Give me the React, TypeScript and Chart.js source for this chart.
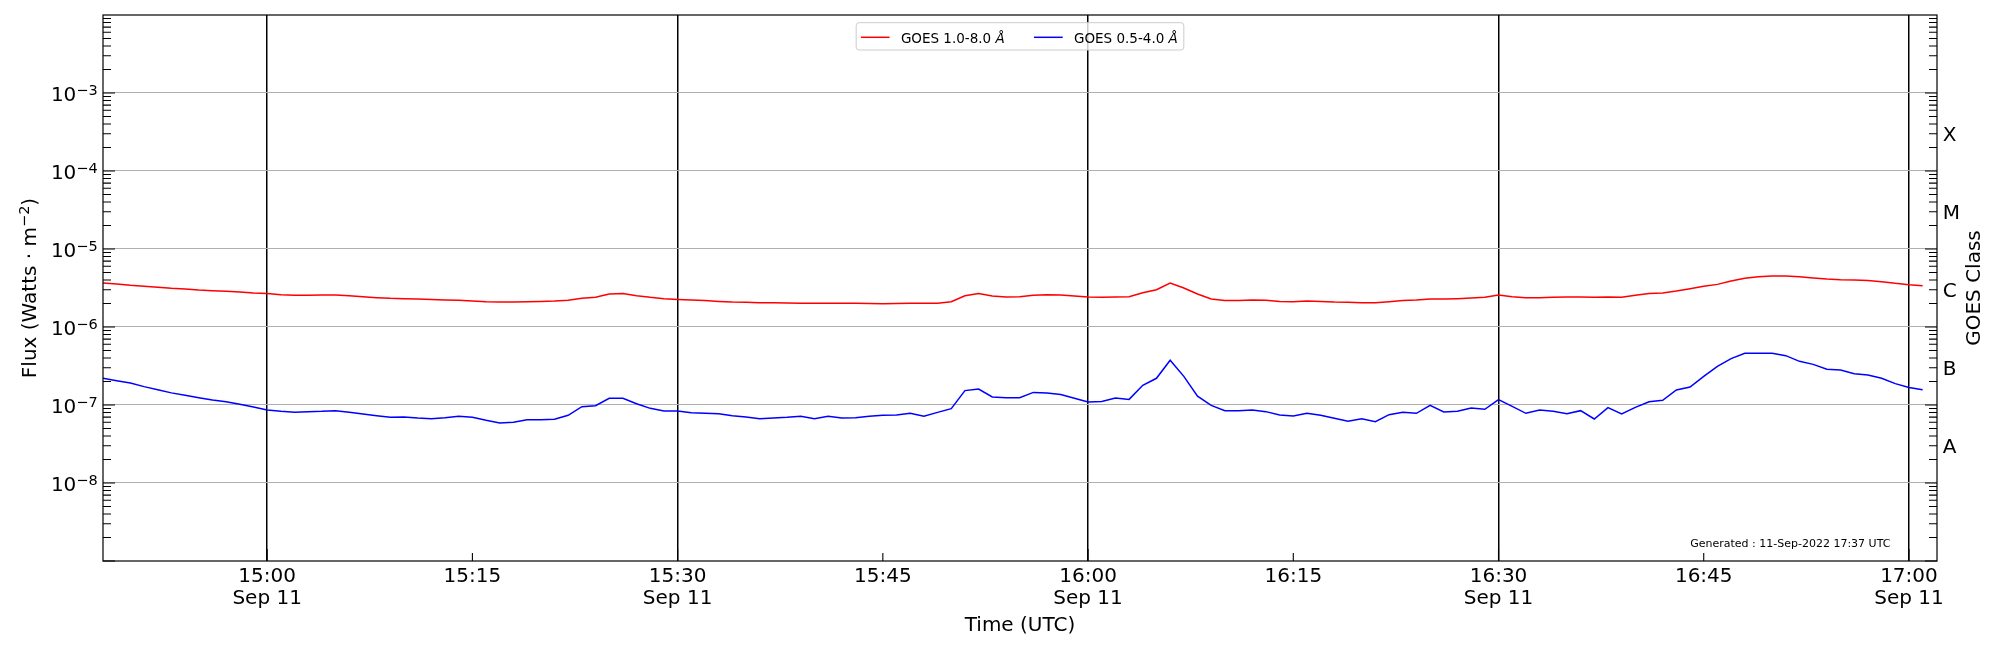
import { useEffect, useRef } from "react";

import { Chart, type Plugin, registerables } from "chart.js";

Chart.register(...registerables);

const FONT = "'DejaVu Sans', sans-serif";

// time axis (1-minute GOES XRS samples)
const startTime = "14:48:00";
const endTime = "17:02:03";
const cadenceSeconds = 60;

const xTickTimes = ["15:00", "15:15", "15:30", "15:45", "16:00", "16:15", "16:30", "16:45", "17:00"];
const xTickDates = ["Sep 11", "", "Sep 11", "", "Sep 11", "", "Sep 11", "", "Sep 11"];

const fluxExponents = [-8, -7, -6, -5, -4, -3];
const goesClasses = ["A", "B", "C", "M", "X"];
const goesClassExponents = [-7.5, -6.5, -5.5, -4.5, -3.5];

const seriesNames = ["GOES 1.0-8.0 ", "GOES 0.5-4.0 "];
const seriesUnit = "Å";
const seriesColors = ["#ff0000", "#0000ff"];

const generatedText = "Generated : 11-Sep-2022 17:37 UTC";

// 1.0-8.0 Å flux (W/m^2)
const xrsLong = [
  3.66e-6, 3.56e-6, 3.42e-6, 3.32e-6, 3.23e-6, 3.13e-6, 3.07e-6, 2.98e-6, 2.92e-6, 2.87e-6,
  2.81e-6, 2.73e-6, 2.68e-6, 2.6e-6, 2.55e-6, 2.55e-6, 2.57e-6, 2.57e-6, 2.52e-6, 2.45e-6,
  2.38e-6, 2.33e-6, 2.31e-6, 2.29e-6, 2.26e-6, 2.22e-6, 2.2e-6, 2.15e-6, 2.11e-6, 2.09e-6,
  2.09e-6, 2.11e-6, 2.13e-6, 2.15e-6, 2.2e-6, 2.33e-6, 2.4e-6, 2.65e-6, 2.68e-6, 2.52e-6,
  2.4e-6, 2.31e-6, 2.26e-6, 2.22e-6, 2.18e-6, 2.13e-6, 2.09e-6, 2.07e-6, 2.05e-6, 2.04e-6,
  2.03e-6, 2.02e-6, 2.01e-6, 2.01e-6, 2.01e-6, 2.01e-6, 2.0e-6, 1.99e-6, 2.0e-6, 2.01e-6,
  2.01e-6, 2.01e-6, 2.11e-6, 2.52e-6, 2.68e-6, 2.5e-6, 2.42e-6, 2.45e-6, 2.55e-6, 2.6e-6,
  2.57e-6, 2.5e-6, 2.42e-6, 2.4e-6, 2.42e-6, 2.45e-6, 2.75e-6, 3.01e-6, 3.66e-6, 3.16e-6,
  2.65e-6, 2.29e-6, 2.18e-6, 2.18e-6, 2.22e-6, 2.2e-6, 2.13e-6, 2.11e-6, 2.15e-6, 2.13e-6,
  2.09e-6, 2.07e-6, 2.05e-6, 2.05e-6, 2.11e-6, 2.18e-6, 2.22e-6, 2.29e-6, 2.29e-6, 2.31e-6,
  2.35e-6, 2.41e-6, 2.57e-6, 2.45e-6, 2.38e-6, 2.38e-6, 2.4e-6, 2.42e-6, 2.42e-6, 2.4e-6,
  2.42e-6, 2.4e-6, 2.55e-6, 2.68e-6, 2.73e-6, 2.89e-6, 3.1e-6, 3.32e-6, 3.52e-6, 3.89e-6,
  4.21e-6, 4.4e-6, 4.5e-6, 4.5e-6, 4.4e-6, 4.25e-6, 4.12e-6, 4.04e-6, 4.01e-6, 3.96e-6,
  3.81e-6, 3.63e-6, 3.49e-6, 3.39e-6,
];

// 0.5-4.0 Å flux (W/m^2)
const xrsShort = [
  2.2e-7, 2.05e-7, 1.91e-7, 1.72e-7, 1.57e-7, 1.43e-7, 1.33e-7, 1.24e-7, 1.16e-7, 1.1e-7,
  1.02e-7, 9.43e-8, 8.63e-8, 8.29e-8, 8.05e-8, 8.22e-8, 8.29e-8, 8.46e-8, 8.05e-8, 7.67e-8,
  7.3e-8, 6.95e-8, 7.02e-8, 6.81e-8, 6.68e-8, 6.88e-8, 7.16e-8, 6.95e-8, 6.36e-8, 5.88e-8,
  6.0e-8, 6.49e-8, 6.49e-8, 6.55e-8, 7.37e-8, 9.52e-8, 9.8e-8, 1.22e-7, 1.22e-7, 1.04e-7,
  9.06e-8, 8.38e-8, 8.38e-8, 7.97e-8, 7.82e-8, 7.74e-8, 7.3e-8, 7.02e-8, 6.68e-8, 6.81e-8,
  6.95e-8, 7.16e-8, 6.68e-8, 7.16e-8, 6.81e-8, 6.88e-8, 7.16e-8, 7.37e-8, 7.45e-8, 7.82e-8,
  7.16e-8, 8.05e-8, 8.98e-8, 1.53e-7, 1.6e-7, 1.27e-7, 1.24e-7, 1.24e-7, 1.45e-7, 1.43e-7,
  1.36e-7, 1.22e-7, 1.09e-7, 1.11e-7, 1.23e-7, 1.18e-7, 1.79e-7, 2.2e-7, 3.74e-7, 2.33e-7,
  1.3e-7, 9.9e-8, 8.46e-8, 8.46e-8, 8.63e-8, 8.22e-8, 7.45e-8, 7.23e-8, 7.82e-8, 7.37e-8,
  6.75e-8, 6.18e-8, 6.68e-8, 6.11e-8, 7.51e-8, 8.05e-8, 7.82e-8, 9.9e-8, 8.13e-8, 8.29e-8,
  9.15e-8, 8.8e-8, 1.17e-7, 9.61e-8, 7.82e-8, 8.63e-8, 8.29e-8, 7.74e-8, 8.46e-8, 6.62e-8,
  9.24e-8, 7.67e-8, 9.33e-8, 1.1e-7, 1.15e-7, 1.56e-7, 1.7e-7, 2.33e-7, 3.13e-7, 3.93e-7,
  4.6e-7, 4.6e-7, 4.6e-7, 4.29e-7, 3.63e-7, 3.32e-7, 2.87e-7, 2.81e-7, 2.52e-7, 2.42e-7,
  2.2e-7, 1.88e-7, 1.68e-7, 1.57e-7,
];

function toMinutes(hms: string) {
  const [h, m, s = 0] = hms.split(":").map(Number);
  return h * 60 + m + s / 60;
}

const t0 = toMinutes(startTime);
const xTickValues = xTickTimes.map((t) => toMinutes(t) - t0);

const font = (size: number, style = "") => `${style} ${size}px ${FONT}`.trim();

// draws "10" with a superscript exponent, right-aligned at x
function drawPower(ctx: CanvasRenderingContext2D, right: number, baseline: number, exp: number) {
  const sup = `\u2212${Math.abs(exp)}`;
  ctx.font = font(14.5);
  const supW = ctx.measureText(sup).width;
  ctx.font = font(20);
  const baseW = ctx.measureText("10").width;
  ctx.textAlign = "left";
  ctx.fillText("10", right - supW - baseW, baseline);
  ctx.font = font(14.5);
  ctx.fillText(sup, right - supW, baseline - 6);
}

const goesDecorations: Plugin<"line"> = {
  id: "goesDecorations",
  afterDraw(chart) {
    const { ctx, chartArea: a } = chart;
    const xs = chart.scales.x;
    const ys = chart.scales.y;
    ctx.save();
    ctx.fillStyle = "#000";
    ctx.strokeStyle = "#000";

    // frame
    ctx.lineWidth = 1.2;
    ctx.strokeRect(a.left, a.top, a.right - a.left, a.bottom - a.top);

    // inward log ticks on both sides
    ctx.lineWidth = 1.1;
    ctx.beginPath();
    for (let e = -9; e < -2; e++) {
      for (let m = 1; m <= 9; m++) {
        const py = ys.getPixelForValue(m * Math.pow(10, e));
        const len = m === 1 ? 12 : 8;
        ctx.moveTo(a.left, py);
        ctx.lineTo(a.left + len, py);
        ctx.moveTo(a.right, py);
        ctx.lineTo(a.right - len, py);
      }
    }
    // inward time ticks
    xTickValues.forEach((v, i) => {
      const px = xs.getPixelForValue(v);
      ctx.moveTo(px, a.bottom);
      ctx.lineTo(px, a.bottom - (xTickDates[i] ? 12 : 8));
    });
    ctx.stroke();

    // y tick labels
    ctx.textBaseline = "alphabetic";
    fluxExponents.forEach((e) => {
      const py = ys.getPixelForValue(Math.pow(10, e));
      drawPower(ctx, a.left - 5.3, py + 8.4, e);
    });

    // GOES class labels
    ctx.font = font(20);
    ctx.textAlign = "left";
    goesClasses.forEach((c, i) => {
      const py = ys.getPixelForValue(Math.pow(10, goesClassExponents[i]));
      ctx.fillText(c, a.right + 5.7, py + 8.5);
    });

    // x tick labels
    ctx.textAlign = "center";
    xTickTimes.forEach((t, i) => {
      const px = xs.getPixelForValue(xTickValues[i]);
      ctx.font = font(20);
      ctx.fillText(t, px, a.bottom + 20.7);
      if (xTickDates[i]) ctx.fillText(xTickDates[i], px, a.bottom + 43.3);
    });

    // axis titles
    const cx = (a.left + a.right) / 2;
    const cy = (a.top + a.bottom) / 2;
    ctx.font = font(20);
    ctx.fillText("Time (UTC)", cx, a.bottom + 69.7);

    ctx.save();
    ctx.translate(35.7, cy);
    ctx.rotate(-Math.PI / 2);
    ctx.textAlign = "left";
    const p1 = "Flux (Watts \u00b7 m";
    const p2 = "\u22122";
    const p3 = ")";
    ctx.font = font(20);
    const w1 = ctx.measureText(p1).width;
    const w3 = ctx.measureText(p3).width;
    ctx.font = font(14.5);
    const w2 = ctx.measureText(p2).width;
    let x = -(w1 + w2 + w3) / 2;
    ctx.font = font(20);
    ctx.fillText(p1, x, 0);
    x += w1;
    ctx.font = font(14.5);
    ctx.fillText(p2, x, -7);
    x += w2;
    ctx.font = font(20);
    ctx.fillText(p3, x, 0);
    ctx.restore();

    ctx.save();
    ctx.translate(a.right + 43, cy);
    ctx.rotate(-Math.PI / 2);
    ctx.textAlign = "center";
    ctx.font = font(20);
    ctx.fillText("GOES Class", 0, 0);
    ctx.restore();

    // generated stamp
    ctx.font = font(11);
    ctx.textAlign = "right";
    ctx.fillText(generatedText, a.right - 46.6, a.bottom - 13.7);

    // legend
    const lf = 13.5;
    const widths = seriesNames.map((n) => {
      ctx.font = font(lf);
      const a1 = ctx.measureText(n).width;
      ctx.font = font(lf, "italic");
      return a1 + ctx.measureText(seriesUnit).width;
    });
    const lineLen = 28.7;
    const gap = 11.3;
    const between = 29.3;
    const boxW = 4.7 + lineLen + gap + widths[0] + between + lineLen + gap + widths[1] + 6;
    const boxH = 27.3;
    const bx = cx - boxW / 2;
    const by = a.top + 7.7;
    ctx.beginPath();
    ctx.roundRect(bx, by, boxW, boxH, 3);
    ctx.fillStyle = "rgba(255,255,255,0.8)";
    ctx.fill();
    ctx.strokeStyle = "#cccccc";
    ctx.lineWidth = 1;
    ctx.stroke();

    let lx = bx + 4.7;
    seriesNames.forEach((n, i) => {
      ctx.strokeStyle = seriesColors[i];
      ctx.lineWidth = 1.5;
      ctx.beginPath();
      ctx.moveTo(lx, by + 14.6);
      ctx.lineTo(lx + lineLen, by + 14.6);
      ctx.stroke();
      lx += lineLen + gap;
      ctx.fillStyle = "#000";
      ctx.textAlign = "left";
      ctx.font = font(lf);
      ctx.fillText(n, lx, by + 20);
      const nw = ctx.measureText(n).width;
      ctx.font = font(lf, "italic");
      ctx.fillText(seriesUnit, lx + nw, by + 20);
      lx += widths[i] + between;
    });

    ctx.restore();
  },
};

export default function App() {
  const canvasRef = useRef<HTMLCanvasElement>(null);
  const chartRef = useRef<Chart | null>(null);

  useEffect(() => {
    if (!canvasRef.current) return;
    if (chartRef.current) chartRef.current.destroy();

    const toPoints = (vals: number[]) => vals.map((v, i) => ({ x: (i * cadenceSeconds) / 60, y: v }));

    chartRef.current = new Chart(canvasRef.current, {
      type: "line",
      data: {
        datasets: [
          {
            label: seriesNames[0] + seriesUnit,
            data: toPoints(xrsLong),
            borderColor: seriesColors[0],
            borderWidth: 1.5,
            pointRadius: 0,
            tension: 0,
            fill: false,
          },
          {
            label: seriesNames[1] + seriesUnit,
            data: toPoints(xrsShort),
            borderColor: seriesColors[1],
            borderWidth: 1.5,
            pointRadius: 0,
            tension: 0,
            fill: false,
          },
        ],
      },
      options: {
        responsive: false,
        animation: false,
        devicePixelRatio: 1,
        events: [],
        layout: { padding: { top: 15, right: 63, left: 0, bottom: 0 } },
        plugins: { legend: { display: false }, tooltip: { enabled: false } },
        scales: {
          x: {
            type: "linear",
            min: 0,
            max: toMinutes(endTime) - t0,
            afterBuildTicks: (axis) => {
              axis.ticks = xTickValues.map((value) => ({ value }));
            },
            afterFit: (axis) => {
              axis.height = 89;
            },
            ticks: { display: false },
            border: { display: false },
            grid: {
              drawTicks: false,
              lineWidth: 1.5,
              color: (c) => (xTickDates[c.index] ? "#000000" : "rgba(0,0,0,0)"),
            },
          },
          y: {
            type: "logarithmic",
            min: 1e-9,
            max: 1e-2,
            afterBuildTicks: (axis) => {
              axis.ticks = fluxExponents.map((e) => ({ value: Math.pow(10, e) }));
            },
            afterFit: (axis) => {
              axis.width = 103;
            },
            ticks: { display: false },
            border: { display: false },
            grid: { drawTicks: false, color: "#b0b0b0", lineWidth: 1.1 },
          },
        },
      },
      plugins: [goesDecorations],
    });

    return () => chartRef.current?.destroy();
  }, []);

  return (
    <div style={{ position: "fixed", left: 0, top: 0, width: 2000, height: 650, background: "#ffffff" }}>
      <canvas ref={canvasRef} width={2000} height={650} role="img" aria-label="GOES X-ray flux, 11 Sep 2022" />
    </div>
  );
}
